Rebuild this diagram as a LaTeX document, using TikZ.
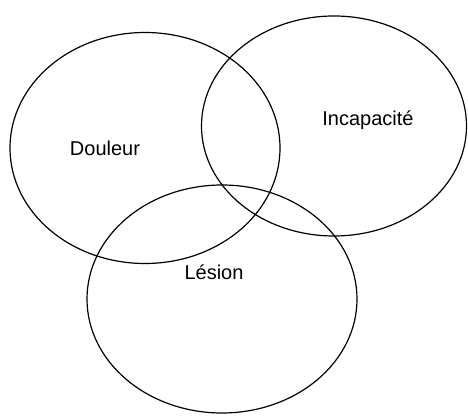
\documentclass[tikz,border=0pt]{standalone}
\usepackage{fontspec}
\setmainfont{Liberation Sans}
\usetikzlibrary{shapes.geometric, positioning}

\begin{document}
\begin{tikzpicture}[
  x=1pt, y=1pt,
  zone/.style={ellipse, draw, line width=1.2pt, inner sep=0pt},
  lbl/.style={font=\fontsize{20}{24}\selectfont}
]
  \useasboundingbox (0,0) rectangle (468,415);

  \node[zone, minimum width=270pt, minimum height=231pt] (douleur) at (145,267) {};
  \node[zone, minimum width=265pt, minimum height=220pt] (incap) at (334,289) {};
  \node[zone, minimum width=270pt, minimum height=228pt] (lesion) at (222,116) {};

  \node[lbl] (tdouleur) at (105,267) {Douleur};
  \node[lbl] (tincap) at (368,295) {Incapacité};
  \node[lbl] (tlesion) at (214,143) {Lésion};
\end{tikzpicture}
\end{document}
